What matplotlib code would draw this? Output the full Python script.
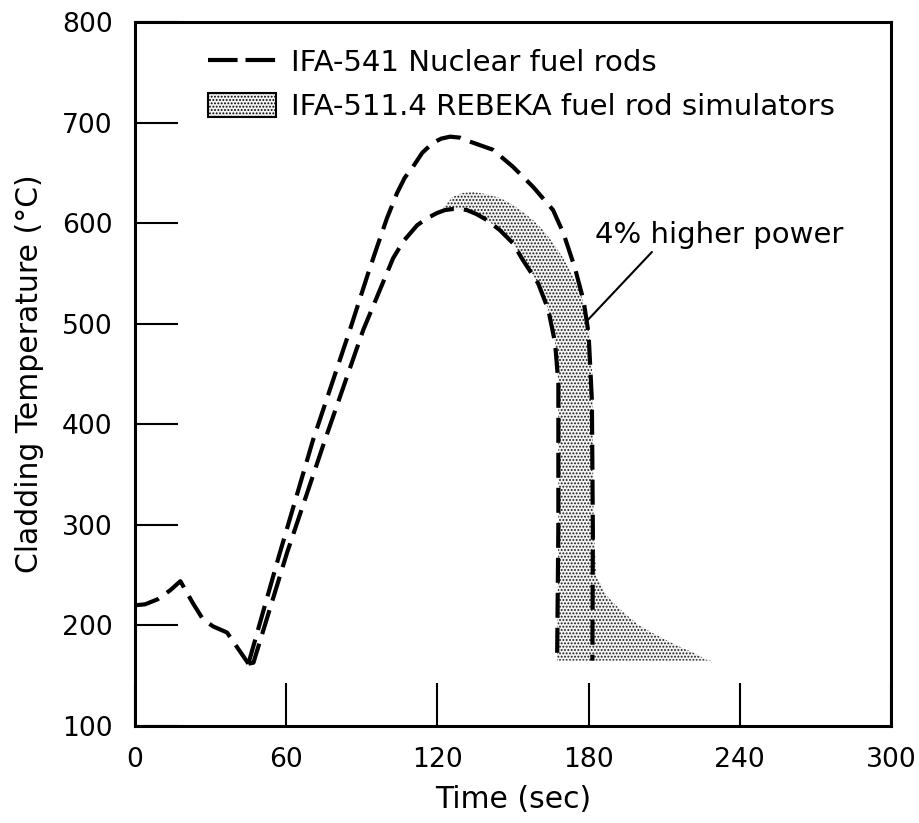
import matplotlib
matplotlib.use("Agg")
import matplotlib.pyplot as plt
from matplotlib.lines import Line2D
from matplotlib.patches import Patch

plt.rcParams['font.family'] = ['DejaVu Sans']
plt.rcParams['hatch.linewidth'] = 0.9

# ---- data (time in s, temperature in degC) ----
common_t = [0, 4, 9, 14, 18, 23, 27, 31, 36.5, 45]
common_T = [220, 221, 226, 235, 244, 222, 206, 199, 193, 162]

high_t = [45, 57, 70.6, 85.3, 92.5, 96, 100, 104, 107, 110.3, 114, 118.3, 121.5, 125,
          129, 133, 142, 150, 158, 165.9, 170, 174.5, 178, 180, 181.3, 181.7, 181.5]
high_T = [162, 268, 384, 494, 550, 576, 605, 630, 645, 656, 670, 680, 684, 686,
          685, 681, 673, 656, 636, 613, 590, 556, 523, 490, 424, 292, 165]

low_t = [45, 47, 60.3, 75.4, 90.6, 102.4, 106.5, 112, 116, 119.8, 123, 126, 129, 131.7,
         135.5, 139.7, 144.8, 150, 154, 160, 164, 166.7, 168, 168, 167.5]
low_T = [162, 163, 272, 384.5, 494, 565, 582, 598, 605, 610, 613, 614, 614, 613,
         609, 603, 593, 580, 563, 540, 514, 481, 441, 300, 165]

band_top_t = [122, 126, 130, 134, 139, 145, 150, 154, 158, 162, 166, 170, 173, 176,
              178.5, 180, 181.5, 182, 183, 187, 192.5, 200, 208, 215, 221.5, 229]
band_top_T = [614, 626, 630, 631, 629, 625, 618, 611, 603, 593, 580, 565, 551, 535,
              518, 500, 450, 300, 250, 230, 216, 200, 189, 180, 173, 163]

x_ticks = [0, 60, 120, 180, 240, 300]
y_ticks = [100, 200, 300, 400, 500, 600, 700, 800]

label_nuclear = "IFA-541 Nuclear fuel rods"
label_rebeka = "IFA-511.4 REBEKA fuel rod simulators"
annot_text = "4% higher power"

# ---- figure ----
fig = plt.figure(figsize=(9.2, 8.23), dpi=100)
ax = fig.add_axes([135/920, 1-726/823, 756/920, 704/823])

band_face = '#f3f3f3'
# stippled band: upper edge, then back along the lower (inner) curve
i0 = next(i for i, t in enumerate(low_t) if t >= band_top_t[0])
poly_t = band_top_t + [band_top_t[-1]] + low_t[::-1][:len(low_t)-i0]
poly_T = band_top_T + [low_T[-1]] + low_T[::-1][:len(low_T)-i0]
ax.fill(poly_t, poly_T, facecolor=band_face, edgecolor='#1a1a1a',
        hatch='.....', linewidth=0, zorder=1)

dash = (6.0, 2.4)
lw = 3.0
ax.plot(common_t, common_T, color='black', lw=lw, dashes=dash, zorder=3)
ax.plot(high_t, high_T, color='black', lw=lw, dashes=dash, zorder=3)
ax.plot(low_t, low_T, color='black', lw=lw, dashes=dash, zorder=3)

# annotation
ax.annotate(annot_text, xy=(179.8, 504), xytext=(182.5, 580),
            fontsize=21, ha='left', va='baseline',
            arrowprops=dict(arrowstyle='-', color='black', lw=1.5,
                            shrinkA=0, shrinkB=0,
                            relpos=(0.24, 0.0)))

ax.set_xlim(0, 300)
ax.set_ylim(100, 800)
ax.set_xticks(x_ticks)
ax.set_yticks(y_ticks)
ax.tick_params(direction='in', length=31, width=1.5, labelsize=19.2)
ax.tick_params(axis='y', pad=16)
ax.tick_params(axis='x', pad=15)
for s in ax.spines.values():
    s.set_linewidth(2.2)

ax.set_xlabel("Time (sec)", fontsize=21.5, labelpad=9)
ax.set_ylabel("Cladding Temperature (°C)", fontsize=21.5, labelpad=13)

handles = [Line2D([0], [0], color='black', lw=lw, dashes=(7.1, 1.9)),
           Patch(facecolor=band_face, edgecolor='black', hatch='.....', linewidth=1.5)]
ax.legend(handles, [label_nuclear, label_rebeka], loc='upper left',
          bbox_to_anchor=(0.096, 0.962), frameon=False, fontsize=21,
          handlelength=2.35, handleheight=0.9, handletextpad=0.5,
          labelspacing=0.55, borderpad=0, borderaxespad=0)

fig.savefig("out.png", dpi=100)
